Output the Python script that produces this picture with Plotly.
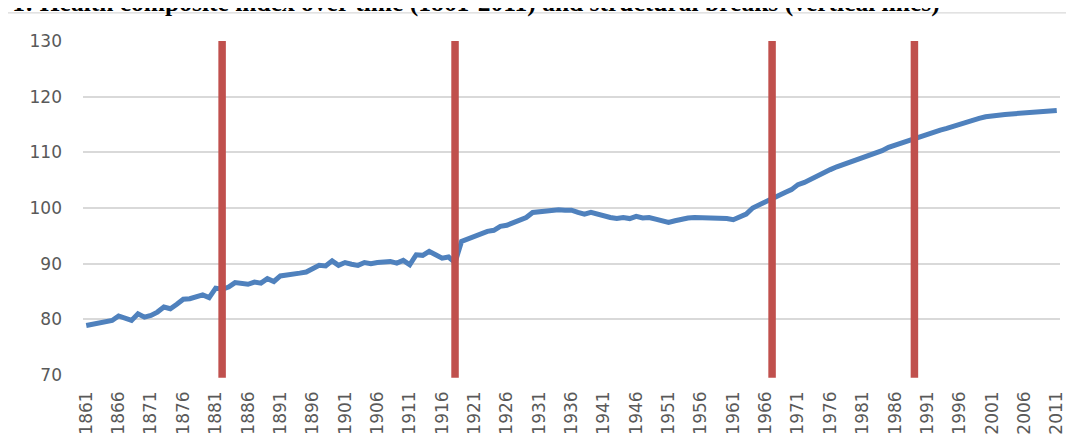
import plotly.graph_objects as go

years = list(range(1861, 2012))
health_index = [
    78.9, 79.1, 79.3, 79.5, 79.8, 80.6, 80.3, 79.8, 81.0, 80.4,   # 1861-1870
    80.7, 81.3, 82.2, 81.9, 82.7, 83.6, 83.7, 84.0, 84.4, 83.9,   # 1871-1880
    85.6, 85.4, 85.8, 86.6, 86.5, 86.3, 86.7, 86.5, 87.3, 86.8,   # 1881-1890
    87.8, 87.9, 88.0, 88.3, 88.5, 89.1, 89.7, 89.6, 90.5, 89.7,   # 1891-1900
    90.2, 89.9, 89.7, 90.2, 90.0, 90.2, 90.4, 90.4, 90.1, 90.6,   # 1901-1910
    89.8, 91.6, 91.5, 92.2, 91.6, 91.0, 91.2, 90.2, 94.0, 94.5,   # 1911-1920
    95.0, 95.5, 95.8, 96.0, 96.7, 96.9, 97.4, 97.9, 98.3, 99.2,   # 1921-1930
    99.3, 99.5, 99.7, 99.7, 99.6, 99.6, 99.2, 98.9, 99.2, 98.9,   # 1931-1940
    98.4, 98.3, 98.1, 98.3, 98.1, 98.5, 98.2, 98.3, 98.0, 97.8,   # 1941-1950
    97.4, 97.7, 98.0, 98.2, 98.3, 98.3, 98.2, 98.2, 98.1, 98.1,   # 1951-1960
    97.9, 98.5, 98.9, 100.0, 100.6, 101.2, 101.7, 102.3, 102.8, 103.3,  # 1961-1970
    104.2, 104.6, 105.2, 105.9, 106.5, 106.9, 107.4, 107.8, 108.2, 108.6,  # 1971-1980
    108.9, 109.3, 109.7, 110.3, 110.9, 111.3, 111.8, 112.1, 112.5, 112.9,  # 1981-1990
    113.3, 113.6, 114.0, 114.3, 114.7, 115.0, 115.4, 115.7, 116.1, 116.4,  # 1991-2000
    116.6, 116.7, 116.8, 116.9, 117.0, 117.1, 117.2, 117.3, 117.4, 117.4,  # 2001-2010
    117.5,                                                        # 2011
]
break_years = [1882, 1918, 1967, 1989]
tick_years = list(range(1861, 2012, 5))
tick_labels = [str(y) for y in tick_years]
y_ticks = [70, 80, 90, 100, 110, 120, 130]

title_text = "Figure 1: Health composite index over time (1861-2011) and structural breaks (vertical lines)"

fig = go.Figure()
fig.add_trace(go.Scatter(
    x=years, y=health_index, mode="lines",
    line=dict(color="#4F81BD", width=5),
    showlegend=False, hoverinfo="x+y",
))

for by in break_years:
    fig.add_shape(type="line", xref="x", yref="paper",
                  x0=by, x1=by, y0=-0.008, y1=1.0,
                  line=dict(color="#C0504D", width=7.5), layer="above")

# chart-area border
fig.add_shape(type="rect", xref="paper", yref="paper",
              x0=-0.079, x1=1.2, y0=-0.5, y1=1.084,
              line=dict(color="#D9D9D9", width=1.2), layer="below")

fig.add_annotation(text="<b>" + title_text + "</b>", xref="paper", yref="paper",
                   x=0.879, y=1.066, xanchor="right", yanchor="bottom",
                   showarrow=False,
                   font=dict(family="Liberation Serif", size=25.5, color="black"))

fig.update_layout(
    width=1066, height=438,
    margin=dict(l=75, r=14, t=33, b=71),
    paper_bgcolor="white", plot_bgcolor="white",
    font=dict(family="DejaVu Sans", size=17, color="#595959"),
    xaxis=dict(range=[1860.5, 2011.5], tickmode="array", tickvals=tick_years,
               ticktext=tick_labels, tickangle=-90, showgrid=False,
               zeroline=False, showline=False, ticks="", ticklabelstandoff=12,
               automargin=False,
               tickfont=dict(size=17, color="#595959")),
    yaxis=dict(range=[70, 130], tickmode="array", tickvals=y_ticks,
               showgrid=True, gridcolor="#D9D9D9", gridwidth=1.5,
               zeroline=False, showline=False, ticks="", ticklabelstandoff=20,
               automargin=False,
               tickfont=dict(size=17, color="#595959")),
)

fig.write_html("out.html")
